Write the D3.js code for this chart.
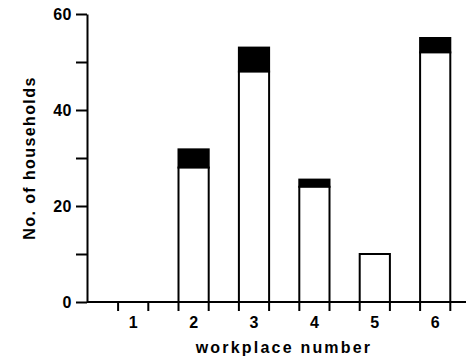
<!DOCTYPE html>
<html>
<head>
<meta charset="utf-8">
<script src="https://cdn.jsdelivr.net/npm/d3@7"></script>
<style>
  body { margin: 0; background: #fff; }
  text { font-family: "Liberation Sans", Arial, sans-serif; font-weight: bold; fill: #000; }
</style>
</head>
<body>
<div id="container"></div>
<script>
// values
let categories = ["1", "2", "3", "4", "5", "6"];
let whiteVals = [0, 28, 48, 24, 10, 52];
let blackVals = [0, 3.8, 5, 1.5, 0, 3];
let yTicks = [0, 10, 20, 30, 40, 50, 60];

let width = 466, height = 358;
let axisX = 87;

let viz = d3.select("#container")
  .append("svg")
    .attr("width", width)
    .attr("height", height);

let y = d3.scaleLinear().domain([0, 60]).range([302, 14]);
let x = d3.scaleBand().domain(categories)
  .range([103, 465.4])
  .paddingInner(0.5)
  .paddingOuter(0.25);

// y axis
let yAxis = d3.axisLeft(y)
  .tickValues(yTicks)
  .tickSize(11)
  .tickSizeOuter(0)
  .tickPadding(4)
  .tickFormat(d => d % 20 == 0 ? d : "");

let yg = viz.append("g")
  .attr("transform", "translate(" + axisX + ",0)")
  .call(yAxis);
yg.select(".domain").attr("stroke-width", 2);
yg.selectAll(".tick line").attr("stroke-width", 2);
yg.selectAll(".tick text")
  .style("font-size", "16px")
  .style("font-family", "Liberation Sans, Arial, sans-serif")
  .style("font-weight", "bold")
  .style("letter-spacing", "0.5px")
  .attr("dy", "0.36em");

// x baseline
viz.append("line")
  .attr("x1", axisX).attr("x2", width)
  .attr("y1", y(0)).attr("y2", y(0))
  .attr("stroke", "#000").attr("stroke-width", 2);

// bars
let data = categories.map((c, i) => ({cat: c, w: whiteVals[i], b: blackVals[i]}));

let groups = viz.selectAll(".bar").data(data).enter()
  .append("g")
    .attr("class", "bar");

groups.filter(d => d.b > 0)
  .append("rect")
    .attr("x", d => x(d.cat))
    .attr("y", d => y(d.w + d.b))
    .attr("width", x.bandwidth())
    .attr("height", d => y(d.w) - y(d.w + d.b))
    .attr("fill", "#000")
    .attr("stroke", "#000")
    .attr("stroke-width", 2);

groups.filter(d => d.w > 0)
  .append("rect")
    .attr("x", d => x(d.cat))
    .attr("y", d => y(d.w))
    .attr("width", x.bandwidth())
    .attr("height", d => y(0) - y(d.w))
    .attr("fill", "#fff")
    .attr("stroke", "#000")
    .attr("stroke-width", 2);

// edge ticks under the axis
let edges = [];
categories.forEach(c => { edges.push(x(c)); edges.push(x(c) + x.bandwidth()); });
viz.selectAll(".edgetick").data(edges).enter()
  .append("line")
    .attr("class", "edgetick")
    .attr("x1", d => d).attr("x2", d => d)
    .attr("y1", y(0)).attr("y2", y(0) + 9)
    .attr("stroke", "#000").attr("stroke-width", 2);

// category labels
viz.selectAll(".catlabel").data(categories).enter()
  .append("text")
    .attr("class", "catlabel")
    .attr("x", d => x(d) + x.bandwidth() / 2)
    .attr("y", 328)
    .attr("text-anchor", "middle")
    .style("font-size", "16px")
    .text(d => d);

// axis titles
viz.append("text")
  .attr("x", 284).attr("y", 353)
  .attr("text-anchor", "middle")
  .style("font-size", "16px")
  .style("letter-spacing", "2.2px")
  .text("workplace number");

viz.append("text")
  .attr("transform", "translate(35,158) rotate(-90)")
  .attr("text-anchor", "middle")
  .style("font-size", "16px")
  .style("letter-spacing", "1.4px")
  .text("No. of households");
</script>
</body>
</html>
